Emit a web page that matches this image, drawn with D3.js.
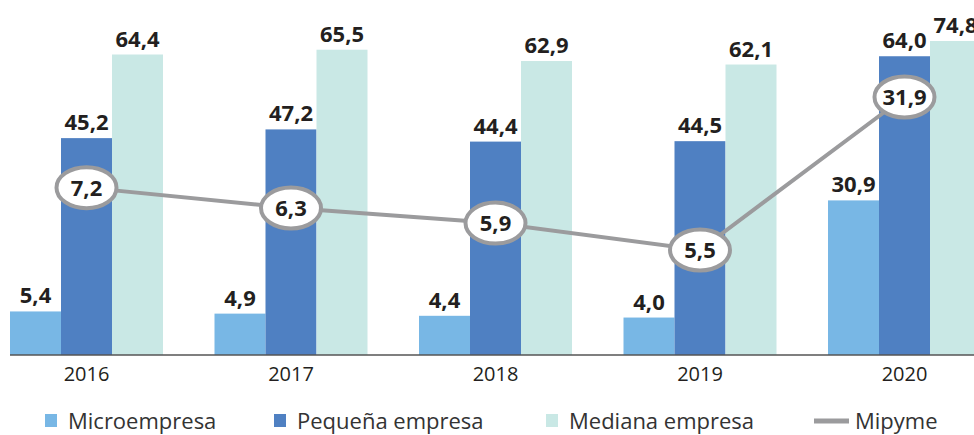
<!DOCTYPE html>
<html>
<head>
<meta charset="utf-8">
<script src="https://cdn.jsdelivr.net/npm/d3@7"></script>
<style>
  body { margin: 0; background: #fff; }
  svg { display: block; font-family: "Open Sans", sans-serif; }
</style>
</head>
<body>
<script>
const years = ["2016", "2017", "2018", "2019", "2020"];
const micro = [5.4, 4.9, 4.4, 4.0, 30.9];
const pequena = [45.2, 47.2, 44.4, 44.5, 64.0];
const mediana = [64.4, 65.5, 62.9, 62.1, 74.8];
const mipyme = [7.2, 6.3, 5.9, 5.5, 31.9];
const seriesNames = ["Microempresa", "Pequeña empresa", "Mediana empresa"];
const colors = ["#78b7e5", "#4f80c2", "#c9e8e5"];
const lineColor = "#9b9b9d";

const w = 974, h = 435;
const base = 355;

const svg = d3.select("body").append("svg")
    .attr("width", w)
    .attr("height", h);

let fmt = v => d3.format(".1f")(v).replace(".", ",");

let x = d3.scaleBand()
    .domain(years)
    .range([10, 981])
    .paddingInner(51.5 / 204.5)
    .paddingOuter(0);

let xSub = d3.scaleBand()
    .domain(seriesNames)
    .range([0, x.bandwidth()]);

// bars sit on a shifted, clamped scale (the last bar is cut short in the original)
let y = d3.scaleLinear()
    .domain([-4.6, 67.5])
    .range([base, 41])
    .clamp(true);

// the Mipyme line uses its own compressed scale
const lineOffset = 5.15;
let yLine = d3.scaleLog()
    .domain([0.35, 26.75])
    .range([250, 97]);

let rows = years.map((yr, i) => ({
    year: yr,
    vals: [micro[i], pequena[i], mediana[i]]
}));

let groups = svg.selectAll("g.year")
    .data(rows)
    .enter()
    .append("g")
    .attr("class", "year")
    .attr("transform", d => `translate(${x(d.year)},0)`);

groups.selectAll("rect")
    .data(d => d.vals.map((v, j) => ({ v: v, s: seriesNames[j], j: j })))
    .enter()
    .append("rect")
    .attr("x", d => xSub(d.s))
    .attr("width", xSub.bandwidth())
    .attr("y", d => y(d.v))
    .attr("height", d => base - y(d.v))
    .attr("fill", d => colors[d.j]);

groups.selectAll("text.val")
    .data(d => d.vals.map((v, j) => ({ v: v, s: seriesNames[j] })))
    .enter()
    .append("text")
    .attr("class", "val")
    .attr("x", d => xSub(d.s) + xSub.bandwidth() / 2)
    .attr("y", d => y(d.v) - 8)
    .attr("text-anchor", "middle")
    .style("font-size", "22px")
    .style("font-weight", "700")
    .style("fill", "#231f20")
    .text(d => fmt(d.v));

// axis
let axis = d3.axisBottom(x).tickSize(0).tickPadding(12);
let gAxis = svg.append("g")
    .attr("transform", `translate(0,${base})`)
    .call(axis);
gAxis.select(".domain").remove();
gAxis.append("line")
    .attr("x1", 10).attr("x2", w)
    .attr("stroke", "#555").attr("stroke-width", 1.5);
gAxis.selectAll(".tick text")
    .style("font-family", "'Open Sans', sans-serif")
    .style("font-size", "20px")
    .style("fill", "#231f20");

// Mipyme line
let cx = (d, i) => x(years[i]) + x.bandwidth() / 2;
let cy = d => yLine(d - lineOffset);

svg.append("path")
    .datum(mipyme)
    .attr("d", d3.line().x(cx).y(cy))
    .attr("fill", "none")
    .attr("stroke", lineColor)
    .attr("stroke-width", 4);

let marks = svg.selectAll("g.mark")
    .data(mipyme)
    .enter()
    .append("g")
    .attr("class", "mark")
    .attr("transform", (d, i) => `translate(${cx(d, i)},${cy(d)})`);

marks.append("ellipse")
    .attr("rx", 30)
    .attr("ry", 20.5)
    .attr("fill", "#fff")
    .attr("stroke", lineColor)
    .attr("stroke-width", 4);

marks.append("text")
    .attr("text-anchor", "middle")
    .attr("dy", "0.36em")
    .style("font-size", "22px")
    .style("font-weight", "700")
    .style("fill", "#231f20")
    .text(d => fmt(d));

// legend
const legendX = [45, 274, 546, 814];
let legend = svg.append("g").attr("transform", "translate(0,421)");
seriesNames.forEach((name, i) => {
    legend.append("rect")
        .attr("x", legendX[i]).attr("y", -7)
        .attr("width", 12).attr("height", 13)
        .attr("fill", colors[i]);
    legend.append("text")
        .attr("x", legendX[i] + 23).attr("y", 8)
        .style("font-size", "22px")
        .style("fill", "#333")
        .text(name);
});
legend.append("line")
    .attr("x1", legendX[3]).attr("x2", legendX[3] + 35)
    .attr("stroke", lineColor).attr("stroke-width", 5);
legend.append("text")
    .attr("x", legendX[3] + 41).attr("y", 8)
    .style("font-size", "22px")
    .style("fill", "#333")
    .text("Mipyme");
</script>
</body>
</html>
